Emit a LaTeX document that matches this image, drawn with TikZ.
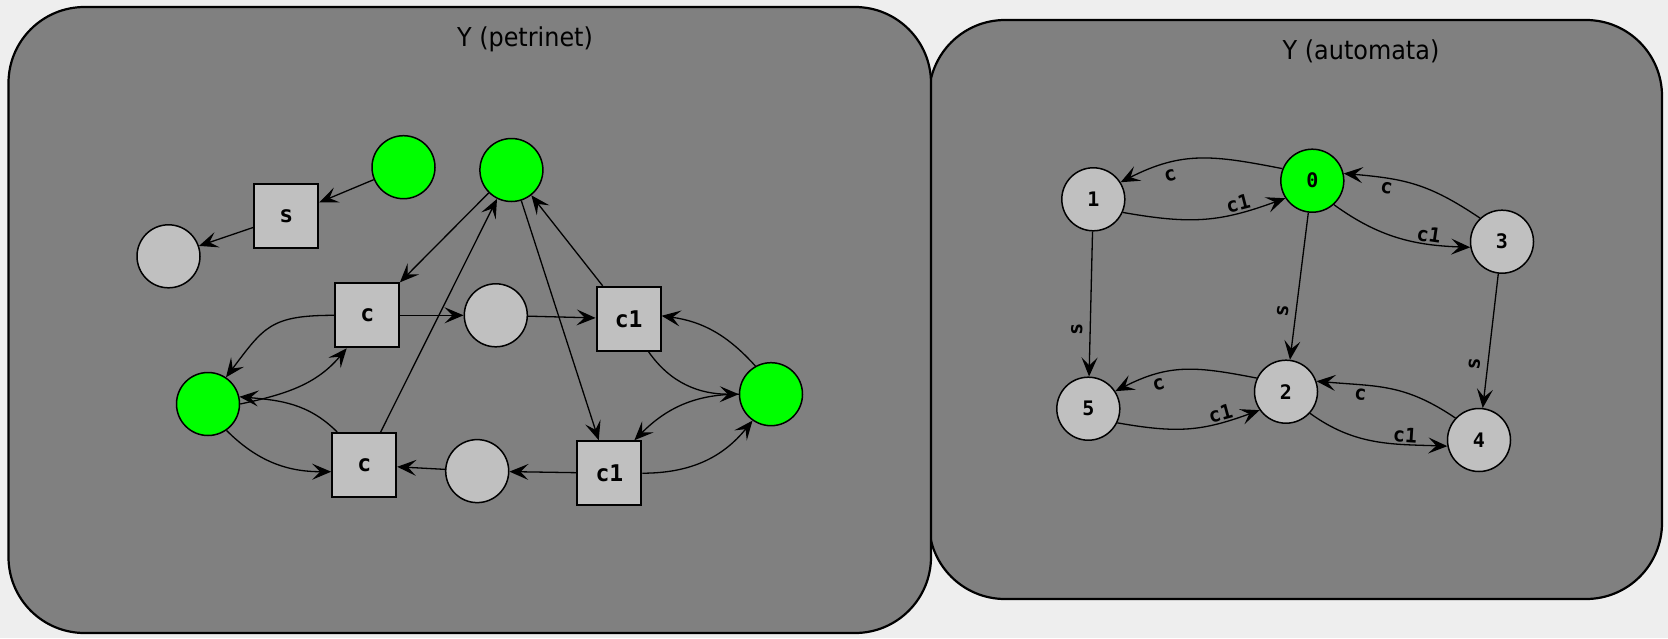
\documentclass[tikz,border=0pt]{standalone}
\usepackage{fontspec}
\usetikzlibrary{arrows.meta}

\newfontfamily\titlefont[FakeStretch=0.92]{DejaVu Sans}
\newfontfamily\labelfont{DejaVu Sans Mono}

\definecolor{pagebg}{HTML}{EEEEEE}
\definecolor{panelgray}{HTML}{808080}
\definecolor{nodegray}{HTML}{C0C0C0}
\definecolor{tokengreen}{HTML}{00FF00}

\tikzset{
  panel/.style={draw=black, line width=2.2pt, fill=panelgray, rectangle,
    rounded corners=76pt, inner sep=0pt},
  paneltitle/.style={font=\titlefont\fontsize{26}{26}\selectfont, anchor=base, inner sep=0pt},
  placenode/.style={circle, draw=black, line width=1.5pt, fill=nodegray,
    minimum size=63pt, inner sep=0pt},
  transnode/.style={rectangle, draw=black, line width=2pt, fill=nodegray,
    minimum size=64pt, inner sep=0pt,
    font=\labelfont\bfseries\fontsize{23}{23}\selectfont},
  statenode/.style={circle, draw=black, line width=1.5pt, fill=nodegray,
    minimum size=63pt, inner sep=0pt,
    font=\labelfont\bfseries\fontsize{20}{20}\selectfont},
  flowarrow/.style={draw=black, line width=1.3pt,
    -{Stealth[length=19pt,width=16pt,inset=8pt]}},
  edgelabel/.style={sloped, inner sep=1pt,
    font=\labelfont\bfseries\fontsize{20}{20}\selectfont},
}

\begin{document}
\begin{tikzpicture}[x=1pt,y=1pt]
  % page background and extent
  \fill[pagebg] (0,0) rectangle (1668,-638);
  \useasboundingbox (0,0) rectangle (1668,-638);

  % the two frames
  \node[panel, minimum width=733pt, minimum height=579pt] (autopanel) at (1295.5,-309.5) {};
  \node[panel, minimum width=922.5pt, minimum height=626pt] (petripanel) at (469.75,-320) {};

  \node[paneltitle] (petrititle) at (525,-46.7) {Y (petrinet)};
  \node[paneltitle] (autotitle) at (1361,-59.8) {Y (automata)};

  % ---------------- Petri net ----------------
  % places
  \node[placenode, fill=tokengreen] (g1) at (403.5,-167.2) {};
  \node[placenode, fill=tokengreen] (g2) at (511.4,-170) {};
  \node[placenode] (pl) at (168.5,-256.3) {};
  \node[placenode] (pm) at (495.8,-315.3) {};
  \node[placenode] (pb) at (477.2,-471.1) {};
  \node[placenode, fill=tokengreen] (gL) at (208,-404) {};
  \node[placenode, fill=tokengreen] (gR) at (771,-394.2) {};
  % transitions
  \node[transnode] (ts) at (286.3,-216.2) {s};
  \node[transnode] (tc1) at (367.2,-315.3) {c};
  \node[transnode] (td1) at (628.6,-318.8) {c1};
  \node[transnode] (tc2) at (364.2,-465) {c};
  \node[transnode] (td2) at (609.4,-473.2) {c1};

  % straight arcs
  \draw[flowarrow] (g1) -- (ts);
  \draw[flowarrow] (ts) -- (pl);
  \draw[flowarrow] (g2) -- (tc1);
  \draw[flowarrow] (tc2) -- (g2);
  \draw[flowarrow] (g2) -- (td2);
  \draw[flowarrow] (td1) -- (g2);
  \draw[flowarrow] (tc1) -- (pm);
  \draw[flowarrow] (pm) -- (td1);
  \draw[flowarrow] (td2) -- (pb);
  \draw[flowarrow] (pb) -- (tc2);
  % curved arcs around the left place
  \draw[flowarrow] (tc1.west) to[out=180,in=53,looseness=1.3] (gL.56);
  \draw[flowarrow] (gL.east) to[out=12,in=-130] ([xshift=-20.5pt]tc1.south);
  \draw[flowarrow] ([xshift=-27pt]tc2.north) to[out=135,in=-5] (gL.13);
  \draw[flowarrow] (gL.-55) to[out=-45,in=180] ([yshift=-6.7pt]tc2.west);
  % curved arcs around the right place
  \draw[flowarrow] ([xshift=20pt]td1.south) to[out=-55,in=180] (gR.west);
  \draw[flowarrow] (gR.119) to[out=132,in=-8] ([yshift=3pt]td1.east);
  \draw[flowarrow] (gR.west) to[out=180,in=45] ([xshift=25pt]td2.north);
  \draw[flowarrow] (td2.east) to[out=0,in=-129] (gR.-125);

  % ---------------- Automaton ----------------
  \node[statenode, fill=tokengreen] (s0) at (1312.3,-180.7) {0};
  \node[statenode] (s1) at (1093.3,-199.3) {1};
  \node[statenode] (s2) at (1286,-391.7) {2};
  \node[statenode] (s3) at (1502,-241.7) {3};
  \node[statenode] (s4) at (1479,-440) {4};
  \node[statenode] (s5) at (1088.3,-408.7) {5};

  \draw[flowarrow] (s0.158) to[out=169,in=27,looseness=1.1]
    node[edgelabel, pos=0.72, below=5pt] {c} (s1.32);
  \draw[flowarrow] (s1.-24) to[out=-10,in=200,looseness=1.1]
    node[edgelabel, pos=0.74, above=0pt] {c1} (s0.-147);
  \draw[flowarrow] (s0.-48) to[out=-36,in=178]
    node[edgelabel, pos=0.72, above=0pt] {c1} (s3.190);
  \draw[flowarrow] (s3.133) to[out=146,in=-5,looseness=1.1]
    node[edgelabel, pos=0.72, below=2pt] {c} (s0.13);

  \draw[flowarrow] (s0) -- node[edgelabel, pos=0.68, above=6pt] {s} (s2);
  \draw[flowarrow] (s1) -- node[edgelabel, pos=0.68, above=6pt] {s} (s5);
  \draw[flowarrow] (s3) -- node[edgelabel, pos=0.68, above=6pt] {s} (s4);

  \draw[flowarrow] (s2.155) to[out=169,in=27,looseness=1.1]
    node[edgelabel, pos=0.72, below=3pt] {c} (s5.33);
  \draw[flowarrow] (s5.-26) to[out=-10,in=200,looseness=1.1]
    node[edgelabel, pos=0.76, above=0pt] {c1} (s2.-145);
  \draw[flowarrow] (s2.-42) to[out=-36,in=178]
    node[edgelabel, pos=0.72, above=0pt] {c1} (s4.191);
  \draw[flowarrow] (s4.137) to[out=146,in=-5,looseness=1.1]
    node[edgelabel, pos=0.72, below=2pt] {c} (s2.19);
\end{tikzpicture}
\end{document}
